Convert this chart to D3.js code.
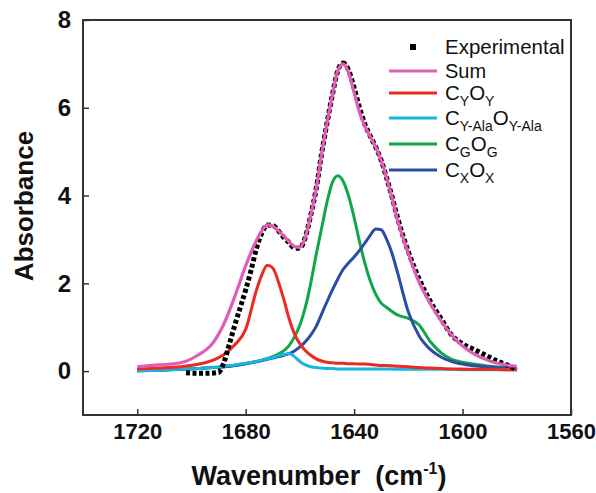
<!DOCTYPE html>
<html><head><meta charset="utf-8">
<script src="https://cdn.jsdelivr.net/npm/d3@7"></script>
<style>body{margin:0;background:#fff}svg{display:block}text{font-family:"Liberation Sans",Arial,sans-serif}</style>
</head><body><svg id="c" width="596" height="493"></svg>
<script>
const compW = [1720,1712,1704,1698,1692,1688,1684,1680,1676,1674,1672,1670,1668,1666,1664,1662,1660,1658,1656,1654,1652,1650,1648,1646,1644,1642,1640,1638,1636,1634,1632,1630,1628,1626,1624,1620,1616,1612,1608,1604,1600,1596,1592,1588,1584,1580];
const redA   = [0.05,0.07,0.1,0.15,0.25,0.38,0.6,0.95,1.85,2.2,2.41,2.35,2.05,1.65,1.2,0.85,0.62,0.47,0.36,0.28,0.23,0.2,0.19,0.18,0.18,0.17,0.17,0.16,0.16,0.15,0.14,0.13,0.13,0.12,0.11,0.1,0.08,0.07,0.06,0.05,0.05,0.04,0.04,0.04,0.03,0.03];
const cyanA  = [0.01,0.02,0.04,0.06,0.08,0.11,0.14,0.18,0.22,0.25,0.28,0.31,0.35,0.38,0.4,0.33,0.22,0.14,0.1,0.08,0.07,0.06,0.06,0.05,0.05,0.05,0.05,0.05,0.05,0.05,0.05,0.05,0.05,0.05,0.04,0.04,0.04,0.04,0.04,0.04,0.03,0.03,0.03,0.03,0.03,0.03];
const greenA = [0.01,0.02,0.04,0.06,0.08,0.1,0.13,0.17,0.22,0.25,0.29,0.33,0.39,0.46,0.58,0.78,1.05,1.45,2.0,2.65,3.25,3.85,4.3,4.45,4.32,3.98,3.5,2.95,2.45,2.05,1.75,1.55,1.45,1.36,1.28,1.2,1.05,0.68,0.42,0.27,0.2,0.16,0.13,0.1,0.08,0.07];
const blueA  = [0.01,0.02,0.04,0.06,0.08,0.1,0.13,0.17,0.21,0.24,0.27,0.3,0.33,0.36,0.4,0.46,0.55,0.67,0.82,1.02,1.3,1.58,1.85,2.1,2.32,2.47,2.6,2.75,2.92,3.1,3.24,3.22,3.0,2.68,2.25,1.35,0.8,0.5,0.32,0.22,0.16,0.12,0.1,0.08,0.07,0.06];
const sumA   = [0.1,0.14,0.19,0.35,0.65,1.08,1.7,2.4,2.98,3.2,3.33,3.3,3.2,3.08,2.95,2.84,2.82,3.05,3.55,4.15,4.95,5.65,6.3,6.85,7.0,6.8,6.35,5.9,5.58,5.34,5.1,4.8,4.4,3.95,3.45,2.68,2.02,1.55,1.15,0.82,0.57,0.4,0.28,0.19,0.14,0.11];
const expW = [1702,1698,1694,1690,1689,1688,1686,1684,1682,1680,1678,1676,1674,1672,1670,1668,1666,1664,1662,1660,1658,1656,1654,1652,1650,1648,1646,1644,1642,1640,1638,1636,1634,1632,1630,1628,1626,1624,1620,1616,1612,1608,1604,1600,1596,1592,1588,1584,1582,1580];
const expA = [-0.04,-0.05,-0.05,-0.03,0.05,0.2,0.62,1.05,1.45,1.85,2.3,2.8,3.15,3.33,3.32,3.2,3.05,2.93,2.8,2.8,3.05,3.55,4.15,4.95,5.65,6.3,6.85,7.02,6.85,6.45,6.0,5.62,5.35,5.1,4.8,4.4,3.97,3.5,2.72,2.1,1.6,1.2,0.82,0.62,0.5,0.38,0.25,0.15,0.1,0.02];
const xTicks = [1720,1680,1640,1600,1560];
const yTicks = [0,2,4,6,8];

const svg = d3.select("#c");
const L=83,R=571,T=20,B=415;
const x = d3.scaleLinear().domain([1740,1560]).range([L,R]);
const y = d3.scaleLinear().domain([-1,8]).range([B,T]);

const line = (W,A)=>d3.line().x((d,i)=>x(W[i])).y(d=>y(d)).curve(d3.curveMonotoneX)(A);

const g = svg.append("g");
const comps = [
  {a:greenA,c:"#10a64a"},
  {a:blueA,c:"#2b4ca6"},
  {a:cyanA,c:"#19b5df"},
  {a:redA,c:"#ec2a22"}
];
comps.forEach(s=>g.append("path").attr("d",line(compW,s.a)).attr("fill","none").attr("stroke",s.c).attr("stroke-width",3));
g.append("path").attr("d",line(expW,expA)).attr("fill","none").attr("stroke","#000").attr("stroke-width",5).attr("stroke-dasharray","4,2.5");
g.append("path").attr("d",line(compW,sumA)).attr("fill","none").attr("stroke","#e05cb5").attr("stroke-width",3.2);

// frame
svg.append("rect").attr("x",L).attr("y",T).attr("width",R-L).attr("height",B-T).attr("fill","none").attr("stroke","#333").attr("stroke-width",2);

// axes
const xa = svg.append("g").attr("transform",`translate(0,${B})`).call(d3.axisBottom(x).tickValues(xTicks).tickSize(-6).tickPadding(8).tickFormat(d3.format("d")));
xa.select(".domain").remove();
xa.selectAll("line").attr("stroke","#333").attr("stroke-width",1.5);
xa.selectAll("text").attr("font-size",22).attr("font-weight","bold").attr("fill","#111");
const ya = svg.append("g").attr("transform",`translate(${L},0)`).call(d3.axisLeft(y).tickValues(yTicks).tickSize(-6).tickPadding(12));
ya.select(".domain").remove();
ya.selectAll("line").attr("stroke","#333").attr("stroke-width",1.5);
ya.selectAll("text").attr("font-size",24).attr("font-weight","bold").attr("fill","#111");

svg.append("text").attr("transform","translate(33,206) rotate(-90)").attr("text-anchor","middle").attr("font-size",26).attr("font-weight","bold").attr("fill","#111").text("Absorbance");
const xt = svg.append("text").attr("x",319).attr("y",485).attr("text-anchor","middle").attr("font-size",27).attr("font-weight","bold").attr("fill","#111");
xt.append("tspan").text("Wavenumber\u00a0\u00a0(cm");
xt.append("tspan").attr("font-size",16).attr("dy",-11).text("-1");
xt.append("tspan").attr("dy",11).text(")");

// legend
const lg = svg.append("g");
const ly0 = 47;
const lineYs = [71, 93, 118, 144, 170];
lg.append("rect").attr("x",410).attr("y",ly0-3).attr("width",6).attr("height",6).attr("fill","#000");
lg.append("text").attr("x",445).attr("y",ly0+7).attr("font-size",20.5).attr("fill","#111").text("Experimental");
const legItems = [
  {c:"#e05cb5", parts:[["Sum",""]]},
  {c:"#ec2a22", parts:[["C","Y"],["O","Y"]]},
  {c:"#19b5df", parts:[["C","Y-Ala"],["O","Y-Ala"]]},
  {c:"#10a64a", parts:[["C","G"],["O","G"]]},
  {c:"#2b4ca6", parts:[["C","X"],["O","X"]]}
];
legItems.forEach((it,i)=>{
  const yy = lineYs[i];
  lg.append("line").attr("x1",389).attr("x2",437).attr("y1",yy).attr("y2",yy).attr("stroke",it.c).attr("stroke-width",3);
  const t = lg.append("text").attr("x",445).attr("y",yy+(i===0?6.5:7)).attr("font-size",i===0?20:20.5).attr("fill","#111");
  let shifted = false;
  it.parts.forEach(p=>{
    t.append("tspan").attr("dy",shifted?-6:0).text(p[0]);
    shifted=false;
    if(p[1]){
      t.append("tspan").attr("font-size",14).attr("dy",6).text(p[1]);
      shifted=true;
    }
  });
});
</script></body></html>
